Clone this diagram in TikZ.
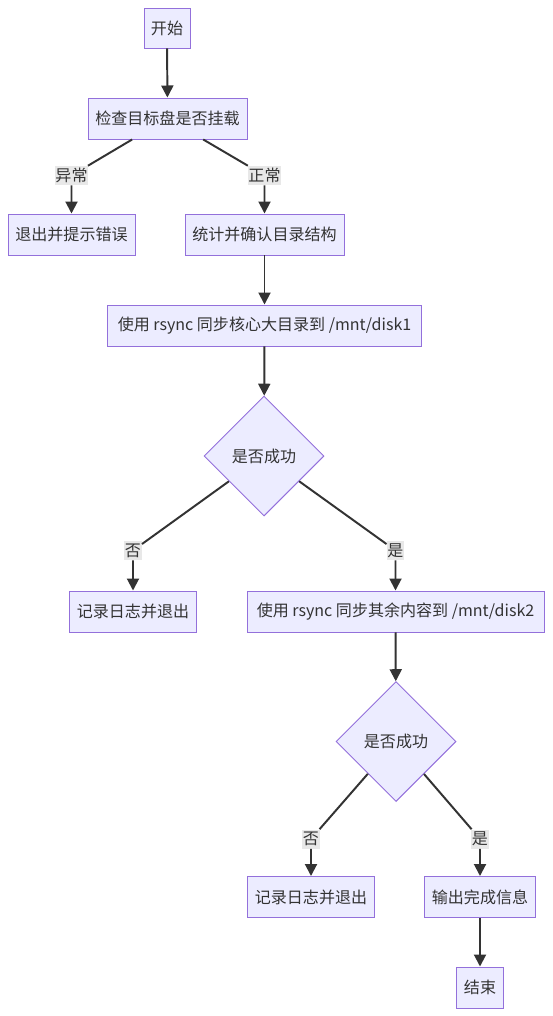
\documentclass[tikz,border=0pt]{standalone}
\usepackage{fontspec}
\newfontfamily\cjk{Noto Sans CJK SC}
\usetikzlibrary{shapes.geometric,arrows.meta}

\definecolor{boxfill}{HTML}{ECECFF}
\definecolor{boxline}{HTML}{9370DB}
\definecolor{flowline}{HTML}{333333}
\definecolor{labelbg}{HTML}{E8E8E8}

% one pixel of the layout
\def\pxu{0.025cm}

\tikzset{
  stepbox/.style={draw=boxline, fill=boxfill, line width=0.7pt, text=flowline,
    font=\cjk\fontsize{11.4pt}{13pt}\selectfont, inner sep=0pt, minimum height=41*\pxu},
  choice/.style={stepbox, diamond, aspect=1, minimum width=120*\pxu, minimum height=120*\pxu},
  edgelabel/.style={fill=labelbg, text=flowline, font=\cjk\fontsize{11.4pt}{13pt}\selectfont,
    inner xsep=0.5pt, inner ysep=0pt, minimum height=19*\pxu},
  flow/.style={draw=flowline, line width=1.4pt, -{Triangle[length=0.3cm,width=0.3cm]}},
  flowplain/.style={draw=flowline, line width=1.4pt}
}

\begin{document}
\begin{tikzpicture}[x=\pxu, y=-\pxu]

    % -- Fix the canvas to the reference size --
    \useasboundingbox (0,0) rectangle (552,1016);

    % -- Process boxes --
    \node[stepbox, minimum width=46*\pxu, minimum height=40*\pxu] (start) at (167,28) {开始};
    \node[stepbox, minimum width=159*\pxu] (check) at (167.5,118.5) {检查目标盘是否挂载};
    \node[stepbox, minimum width=127*\pxu] (err)   at (71.5,234.5) {退出并提示错误};
    \node[stepbox, minimum width=159*\pxu] (stat)  at (264.5,234.5) {统计并确认目录结构};
    \node[stepbox, minimum width=314*\pxu] (sync1) at (264.5,325.5) {使用 rsync 同步核心大目录到 /mnt/disk1};
    \node[choice] (ok1) at (264,456) {是否成功};
    \node[stepbox, minimum width=127*\pxu] (log1)  at (133,611.5) {记录日志并退出};
    \node[stepbox, minimum width=297*\pxu] (sync2) at (395.5,611.5) {使用 rsync 同步其余内容到 /mnt/disk2};
    \node[choice] (ok2) at (396,741.5) {是否成功};
    \node[stepbox, minimum width=127*\pxu] (log2)  at (311,897) {记录日志并退出};
    \node[stepbox, minimum width=111*\pxu] (done)  at (480,897) {输出完成信息};
    \node[stepbox, minimum width=47*\pxu]  (stop)  at (480,987.5) {结束};

    % -- Edge labels --
    \node[edgelabel] (lbfail) at (71.5,175.5) {异常};
    \node[edgelabel] (lbgood) at (264.5,175.5) {正常};
    \node[edgelabel] (lbnoA)  at (133,550.5) {否};
    \node[edgelabel] (lbyesA) at (395.5,550.5) {是};
    \node[edgelabel] (lbnoB)  at (311,839) {否};
    \node[edgelabel] (lbyesB) at (480,839) {是};

    % -- Connectors --
    \draw[flow] (start) -- (check);
    \draw[flow] (check) -- (lbfail) -- (err);
    \draw[flow] (check) -- (lbgood) -- (stat);
    \draw[flow] (stat) -- (sync1);
    \draw[flow] (sync1) -- (ok1);
    \draw[flow] (ok1) -- (lbnoA) -- (log1);
    \draw[flow] (ok1) -- (lbyesA) -- (sync2);
    \draw[flow] (sync2) -- (ok2);
    \draw[flow] (ok2) -- (lbnoB) -- (log2);
    \draw[flow] (ok2) -- (lbyesB) -- (done);
    \draw[flow] (done) -- (stop);

\end{tikzpicture}
\end{document}
